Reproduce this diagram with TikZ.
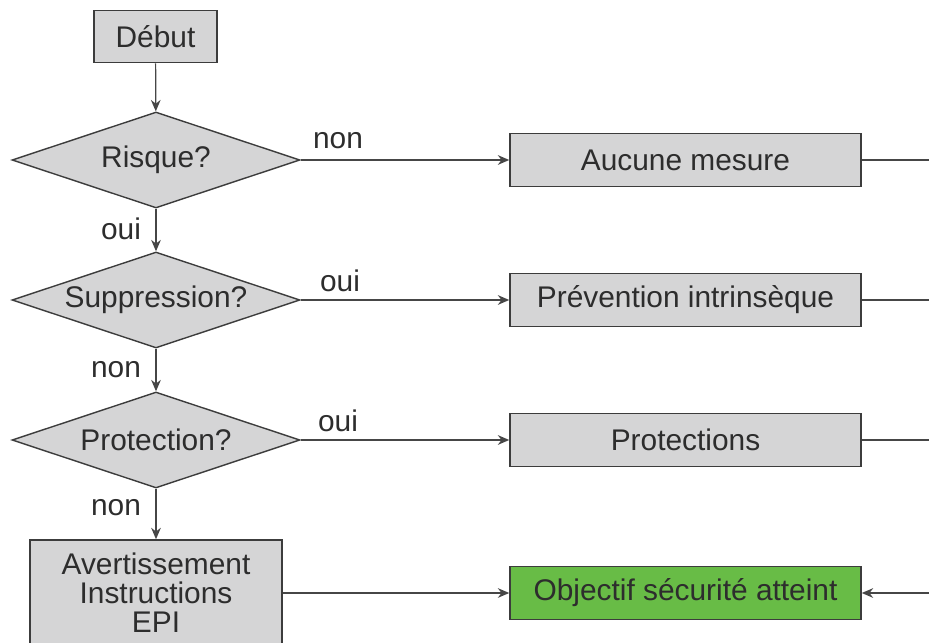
\documentclass[tikz,border=0pt]{standalone}
\usepackage{fontspec}
\setmainfont{Liberation Sans}
\usetikzlibrary{shapes.geometric,arrows.meta}
\definecolor{boxfill}{RGB}{213,213,214}
\definecolor{boxdraw}{RGB}{60,60,60}
\definecolor{txt}{RGB}{45,45,45}
\definecolor{linecol}{RGB}{70,70,70}
\definecolor{okgreen}{RGB}{104,188,70}
\begin{document}
\begin{tikzpicture}[x=0.02cm,y=-0.02cm,
  font=\fontsize{17}{20}\selectfont, text=txt,
  box/.style={draw=boxdraw, line width=0.9pt, fill=boxfill, rectangle, inner sep=0pt, align=center},
  sidebox/.style={box, minimum width=7.02cm, minimum height=1.06cm},
  decision/.style={draw=boxdraw, line width=0.8pt, fill=boxfill, diamond, aspect=3, inner sep=0pt, minimum width=5.76cm, minimum height=1.92cm},
  conn/.style={draw=linecol, line width=0.7pt},
  arr/.style={conn, -{Stealth[length=6.5pt,width=5.5pt]}},
  lbl/.style={font=\fontsize{17}{20}\selectfont, text=txt, inner sep=0pt}]
\useasboundingbox (0,0) rectangle (929,642);
% nodes
\node[box, minimum width=2.46cm, minimum height=1.04cm] (debut) at (155.5,36.5) {Début};
\node[decision] (risque) at (156,160) {Risque?};
\node[decision] (supp) at (156,300) {Suppression?};
\node[decision] (prot) at (156,440) {Protection?};
\node[box, minimum width=5.04cm, minimum height=2.1cm, font=\fontsize{17}{16.5}\selectfont] (avert) at (156,592.5) {Avertissement\\Instructions\\EPI};
\node[sidebox] (aucune) at (685.5,160) {Aucune mesure};
\node[sidebox] (prev) at (685.5,300) {Prévention intrinsèque};
\node[sidebox] (prots) at (685.5,440) {Protections};
\node[sidebox, fill=okgreen] (obj) at (685.5,593) {Objectif sécurité atteint};
% right-edge coordinates
\coordinate (r1) at (935,160);
\coordinate (r2) at (935,300);
\coordinate (r3) at (935,440);
\coordinate (r4) at (935,593);
% connectors
\draw[arr] (debut) -- (risque);
\draw[arr] (risque) -- (supp);
\draw[arr] (supp) -- (prot);
\draw[arr] (prot) -- (avert);
\draw[arr] (risque.east) -- (aucune.west);
\draw[arr] (supp.east) -- (prev.west);
\draw[arr] (prot.east) -- (prots.west);
\draw[arr] (avert.east |- obj.west) -- (obj.west);
\draw[conn] (aucune.east) -- (r1);
\draw[conn] (prev.east) -- (r2);
\draw[conn] (prots.east) -- (r3);
\draw[arr] (r4) -- (obj.east);
% labels
\node[lbl] (l1) at (338,141) {non};
\node[lbl] (l2) at (121,229) {oui};
\node[lbl] (l3) at (340,281) {oui};
\node[lbl] (l4) at (116,370) {non};
\node[lbl] (l5) at (338,421) {oui};
\node[lbl] (l6) at (116,508) {non};
\end{tikzpicture}
\end{document}
